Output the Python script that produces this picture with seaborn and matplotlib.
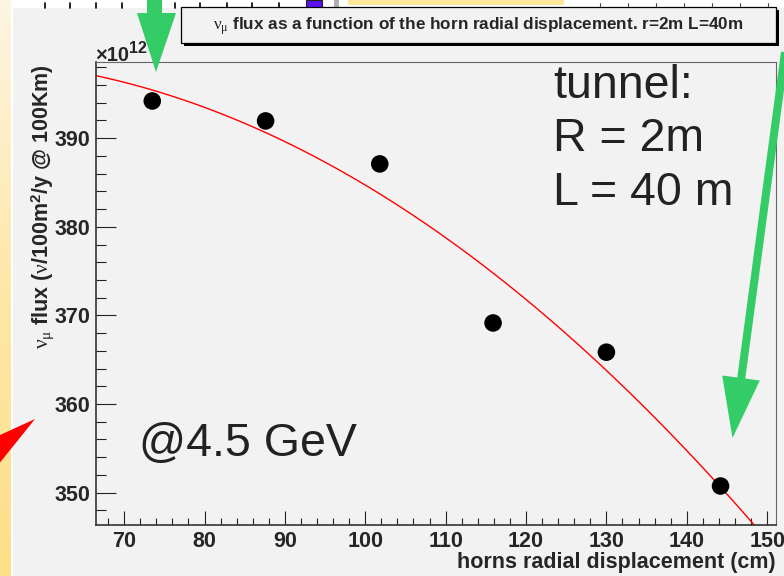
import numpy as np
import pandas as pd
import matplotlib
matplotlib.use("Agg")
import matplotlib.pyplot as plt
import seaborn as sns
from matplotlib.patches import Polygon, Rectangle
from matplotlib.lines import Line2D
from matplotlib.colors import LinearSegmentedColormap
from matplotlib.ticker import MultipleLocator

# ---------------- data ----------------
displacement_cm = [73.5, 87.6, 101.8, 115.9, 130.0, 144.2]
flux_1e12 = [394.2, 391.95, 387.1, 369.15, 365.85, 350.75]
x_ticks = [70, 80, 90, 100, 110, 120, 130, 140, 150]
y_ticks = [350, 360, 370, 380, 390]
title_text = r"$\mathrm{\nu}_{\mathrm{\mu}}$ flux as a function of the horn radial displacement. r=2m L=40m"
x_label = "horns radial displacement (cm)"
y_label = r"$\mathrm{\nu}_{\mathrm{\mu}}$ flux ($\mathrm{\nu}$/100m$^{\mathbf{2}}$/y @ 100Km)"
tunnel_lines = ["tunnel:", "R = 2m", "L = 40 m"]
energy_text = "@4.5 GeV"

df = pd.DataFrame({"displacement": displacement_cm, "flux": flux_1e12})

# ---------------- style ----------------
sns.set_style("ticks")
plt.rcParams["font.family"] = ["Liberation Sans", "DejaVu Sans"]
plt.rcParams["mathtext.fontset"] = "custom"
plt.rcParams["mathtext.rm"] = "Liberation Serif"
plt.rcParams["mathtext.it"] = "Liberation Serif:italic"
plt.rcParams["mathtext.bf"] = "Liberation Sans:bold"

W, H = 784, 576
BG = "#f2f2f2"
GREEN = "#33cc66"
LBL = 15.5


def P(x, y):
    return (x / W, 1 - y / H)


fig = plt.figure(figsize=(W / 100, H / 100), dpi=100, facecolor=BG)

# left yellow gradient strip
strip = fig.add_axes([0, 0, 11 / W, 1])
cmap = LinearSegmentedColormap.from_list("y", ["#fdf5e2", "#fde7a8", "#fddf88"])
strip.imshow(np.linspace(0, 1, 256).reshape(-1, 1), aspect="auto", cmap=cmap)
strip.set_axis_off()
fig.add_artist(Rectangle(P(11, 576), 2 / W, 1, transform=fig.transFigure,
                         facecolor="white", edgecolor="none", zorder=1))
# top band (remnants of slide)
fig.add_artist(Rectangle(P(13, 8), 1, 8 / H, transform=fig.transFigure,
                         facecolor="white", edgecolor="none", zorder=1))
for tx in [45, 70, 96, 122, 149, 175, 200, 227, 252, 279]:
    fig.add_artist(Line2D([tx / W, tx / W], [1 - 3 / H, 1 - 8 / H], transform=fig.transFigure,
                          color="black", lw=1.2, zorder=2))
fig.add_artist(Rectangle(P(306, 9), 16 / W, 9 / H, transform=fig.transFigure,
                         facecolor="#5a10f0", edgecolor="#222", lw=0.8, zorder=2))
fig.add_artist(Rectangle(P(334, 9), 5 / W, 9 / H, transform=fig.transFigure,
                         facecolor="#b0b0b0", edgecolor="none", zorder=2))
fig.add_artist(Rectangle(P(348, 5), 216 / W, 5 / H, transform=fig.transFigure,
                         facecolor="#fde79a", edgecolor="none", zorder=2))
for tx in range(600, 784, 28):
    fig.add_artist(Line2D([tx / W, tx / W], [1 - 3 / H, 1 - 8 / H], transform=fig.transFigure,
                          color="#555", lw=0.8, zorder=2))

# ---------------- main axes ----------------
ax = fig.add_axes([96 / W, (H - 525) / H, 680 / W, 463 / H])
ax.set_facecolor(BG)
xlim = (66.5, 151.1)
ylim = (346.35, 398.6)
ax.set_xlim(*xlim)
ax.set_ylim(*ylim)

sns.regplot(data=df, x="displacement", y="flux", order=2, ci=None, scatter=False,
            truncate=False, line_kws=dict(color="red", lw=1.0), ax=ax)
sns.scatterplot(data=df, x="displacement", y="flux", s=160, color="black",
                edgecolor="none", zorder=3, ax=ax, legend=False)
ax.set_xlim(*xlim)
ax.set_ylim(*ylim)

ax.set_xticks(x_ticks)
ax.set_xticklabels([str(t) for t in x_ticks], fontsize=LBL, fontweight="bold")
ax.set_yticks(y_ticks)
ax.set_yticklabels([str(t) for t in y_ticks], fontsize=LBL, fontweight="bold")
ax.xaxis.set_minor_locator(MultipleLocator(2))
ax.yaxis.set_minor_locator(MultipleLocator(2))
ax.tick_params(axis="y", which="major", direction="in", length=14.4, width=0.8, pad=3.8, color="#222")
ax.tick_params(axis="y", which="minor", direction="in", length=7.2, width=0.8, color="#222")
ax.tick_params(axis="x", which="major", direction="in", length=10, width=0.8, pad=4.6, color="#222")
ax.tick_params(axis="x", which="minor", direction="in", length=5, width=0.8, color="#222")

for s in ["left", "bottom"]:
    ax.spines[s].set_color("#333")
    ax.spines[s].set_linewidth(1.2)
for s in ["top", "right"]:
    ax.spines[s].set_visible(True)
    ax.spines[s].set_color("#666")
    ax.spines[s].set_linewidth(0.8)

ax.set_xlabel(x_label, fontsize=LBL, fontweight="bold", loc="right")
ax.xaxis.set_label_coords(1.0, -0.059)
ax.set_ylabel(y_label, fontsize=LBL, fontweight="bold", loc="top")
ax.yaxis.set_label_coords(-0.059, 0.995)

# exponent
fig.text(*P(95, 61), "\u00d710", fontsize=14.5, fontweight="bold", va="baseline", ha="left")
fig.text(*P(129, 53), "12", fontsize=11.5, fontweight="bold", va="baseline", ha="left")

# annotations
for i, line in enumerate(tunnel_lines):
    fig.text(*P(553, 98 + 53.5 * i), line, fontsize=33.5, color="#222",
             va="baseline", ha="left", zorder=6)
fig.text(*P(139, 456), energy_text, fontsize=33.5, color="#222", va="baseline", ha="left", zorder=6)

# title box with shadow
fig.add_artist(Rectangle(P(184, 46), 595 / W, 36 / H, transform=fig.transFigure,
                         facecolor="black", edgecolor="none", zorder=4))
fig.add_artist(Rectangle(P(181, 43), 595 / W, 36 / H, transform=fig.transFigure,
                         facecolor=BG, edgecolor="black", lw=0.9, zorder=4.5))
fig.text(*P(478.5, 29.5), title_text, fontsize=12.3, fontweight="bold",
         ha="center", va="baseline", zorder=5)

# green arrow (top left)
fig.add_artist(Rectangle(P(147, 13), 15 / W, 13 / H, transform=fig.transFigure,
                         facecolor=GREEN, edgecolor="none", zorder=7))
fig.add_artist(Polygon([P(137, 13), P(176, 13), P(156, 72)], closed=True,
                       transform=fig.transFigure, facecolor=GREEN, edgecolor="none", zorder=7))
# green arrow (right)
fig.add_artist(Line2D([792 / W, 741 / W], [1, 1 - 380 / H], transform=fig.transFigure,
                      color=GREEN, lw=5.8, solid_capstyle="butt", zorder=7))
fig.add_artist(Polygon([P(759.8, 380.5), P(722.2, 375.5), P(732.5, 438)], closed=True,
                       transform=fig.transFigure, facecolor=GREEN, edgecolor="none", zorder=7))
# red arrowhead (left)
fig.add_artist(Polygon([P(-2, 436), P(35, 419), P(-2, 465)], closed=True,
                       transform=fig.transFigure, facecolor="#ff0000", edgecolor="none", zorder=7))

fig.savefig("out.png", dpi=100, facecolor=BG)
